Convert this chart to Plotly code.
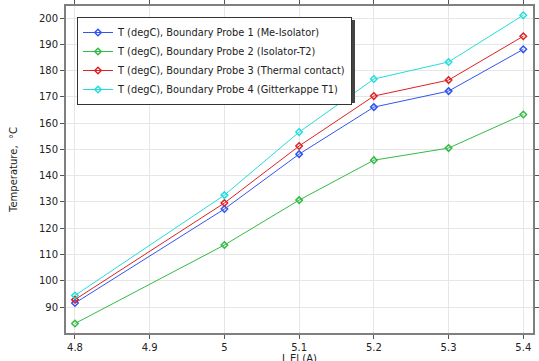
import plotly.graph_objects as go

current = [4.8, 5.0, 5.1, 5.2, 5.3, 5.4]
probe1 = [91.5, 127.3, 148.2, 166.1, 172.2, 188.1]
probe2 = [83.7, 113.6, 130.7, 145.9, 150.5, 163.3]
probe3 = [92.8, 129.6, 151.3, 170.3, 176.4, 193.1]
probe4 = [94.4, 132.6, 156.6, 176.8, 183.3, 201.1]
names = [
    "T (degC), Boundary Probe 1 (Me-Isolator)",
    "T (degC), Boundary Probe 2 (Isolator-T2)",
    "T (degC), Boundary Probe 3 (Thermal contact)",
    "T (degC), Boundary Probe 4 (Gitterkappe T1)",
]
colors = ["#3355ee", "#33bb44", "#dd2222", "#22dddd"]
series = [probe1, probe2, probe3, probe4]

W, H = 539, 361
ml, mr, mt, mb = 66, 6, 6, 28

fig = go.Figure()
for name, ys, c in zip(names, series, colors):
    fig.add_trace(go.Scatter(
        x=current, y=ys, name=name, mode="lines+markers",
        line=dict(color=c, width=1),
        marker=dict(symbol="diamond-open", size=5, color=c, line=dict(width=1.5, color=c)),
    ))

pw = W - ml - mr
ph = H - mt - mb
lx0, ly0 = 77, 17
fig.add_shape(type="rect", xref="paper", yref="paper",
              x0=(lx0 + 3 - ml) / pw, x1=(355 - ml) / pw,
              y0=1 - (103 - mt) / ph, y1=1 - (ly0 + 3 - mt) / ph,
              fillcolor="#444444", line=dict(width=0), layer="above")

fig.add_annotation(text="I_El (A)", xref="paper", yref="paper", x=0.5, y=0,
                   xanchor="center", yanchor="top", yshift=-18, showarrow=False,
                   font=dict(size=10, color="#222222"))

axis_common = dict(showline=True, linecolor="#7f7f7f", linewidth=2, mirror="ticks",
                   showgrid=True, gridcolor="#e6e6e6", gridwidth=1,
                   ticks="outside", ticklen=4, tickcolor="#555555", zeroline=False,
                   automargin=False,
                   tickfont=dict(size=10, color="#222222"))

fig.update_layout(
    width=W, height=H,
    margin=dict(l=ml, r=mr, t=mt, b=mb),
    paper_bgcolor="white", plot_bgcolor="white",
    font=dict(family="DejaVu Sans", size=10, color="#222222"),
    xaxis=dict(range=[4.788, 5.413], tickvals=[4.8, 4.9, 5.0, 5.1, 5.2, 5.3, 5.4],
               ticktext=["4.8", "4.9", "5", "5.1", "5.2", "5.3", "5.4"], **axis_common),
    yaxis=dict(range=[80.1, 204.6], tickvals=list(range(90, 201, 10)),
               title=dict(text="Temperature,  °C", standoff=19, font=dict(size=10)), **axis_common),
    showlegend=True,
    legend=dict(x=(lx0 - ml) / pw, y=1 - (ly0 - mt) / ph, xanchor="left", yanchor="top",
                bgcolor="white", bordercolor="#333333", borderwidth=1,
                font=dict(size=9.8, color="#222222"), itemwidth=30, tracegroupgap=0),
)

fig.write_html("out.html")
